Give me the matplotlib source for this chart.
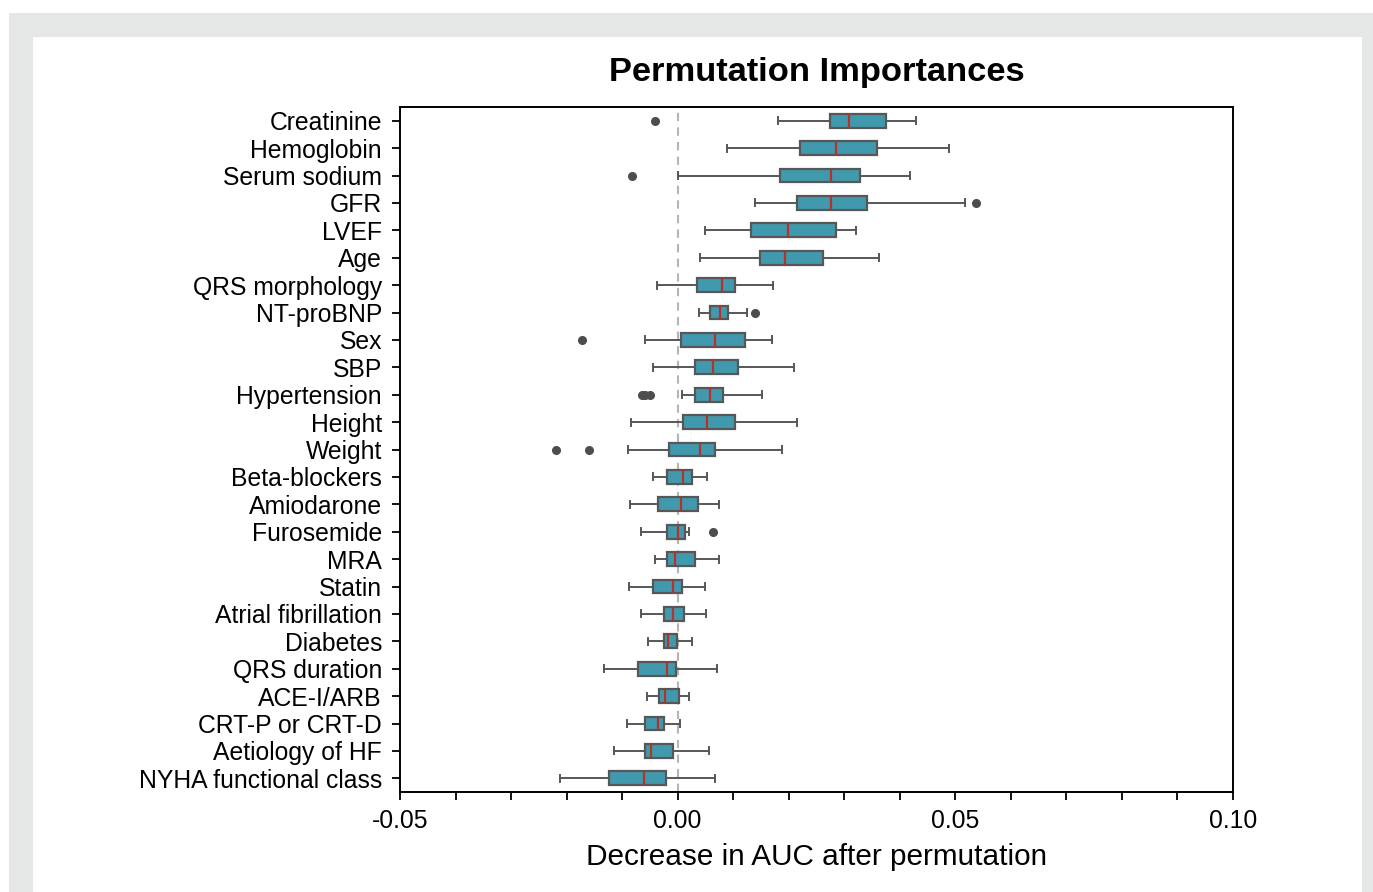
import numpy as np
import matplotlib
matplotlib.use("Agg")
import matplotlib.pyplot as plt
from matplotlib.patches import Rectangle

plt.rcParams['font.family'] = ['Liberation Sans', 'DejaVu Sans']

# =============================================================================
# values (decrease in AUC)
# =============================================================================
features = ["Creatinine", "Hemoglobin", "Serum sodium", "GFR", "LVEF", "Age",
            "QRS morphology", "NT-proBNP", "Sex", "SBP", "Hypertension",
            "Height", "Weight", "Beta-blockers", "Amiodarone", "Furosemide",
            "MRA", "Statin", "Atrial fibrillation", "Diabetes", "QRS duration",
            "ACE-I/ARB", "CRT-P or CRT-D", "Aetiology of HF",
            "NYHA functional class"]
whis_lo = [0.0180, 0.0089, 0.0000, 0.0139, 0.0049, 0.0040, -0.0037, 0.0039,
           -0.0058, -0.0044, 0.0007, -0.0084, -0.0089, -0.0044, -0.0086,
           -0.0066, -0.0041, -0.0088, -0.0066, -0.0054, -0.0133, -0.0055,
           -0.0092, -0.0115, -0.0211]
q1 = [0.0274, 0.0221, 0.0185, 0.0214, 0.0132, 0.0149, 0.0035, 0.0059,
      0.0006, 0.0032, 0.0031, 0.0009, -0.0016, -0.0019, -0.0036, -0.0020,
      -0.0020, -0.0045, -0.0025, -0.0025, -0.0071, -0.0034, -0.0059,
      -0.0059, -0.0124]
med = [0.0308, 0.0286, 0.0277, 0.0276, 0.0198, 0.0194, 0.0079, 0.0077,
       0.0067, 0.0064, 0.0058, 0.0052, 0.0041, 0.0010, 0.0006, 0.0000,
       -0.0005, -0.0009, -0.0009, -0.0017, -0.0020, -0.0023, -0.0036,
       -0.0048, -0.0061]
q3 = [0.0375, 0.0359, 0.0329, 0.0341, 0.0285, 0.0262, 0.0103, 0.0090,
      0.0122, 0.0108, 0.0082, 0.0104, 0.0068, 0.0026, 0.0037, 0.0014,
      0.0032, 0.0007, 0.0011, -0.0002, -0.0003, 0.0002, -0.0025, -0.0009,
      -0.0021]
whis_hi = [0.0430, 0.0489, 0.0419, 0.0517, 0.0321, 0.0363, 0.0172, 0.0124,
           0.0169, 0.0210, 0.0152, 0.0214, 0.0187, 0.0052, 0.0074, 0.0021,
           0.0074, 0.0049, 0.0051, 0.0026, 0.0071, 0.0021, 0.0005, 0.0056,
           0.0068]
outliers = {"Creatinine": [-0.0040], "Serum sodium": [-0.0082],
            "GFR": [0.0537], "NT-proBNP": [0.0140], "Sex": [-0.0172],
            "Hypertension": [-0.0065, -0.0058, -0.0049],
            "Weight": [-0.0219, -0.0160], "Furosemide": [0.0064]}

box_color = "#4199ad"
edge_color = "#575757"
median_color = "#b5322a"

# =============================================================================
# figure with grey frame
# =============================================================================
fig = plt.figure(figsize=(13.73, 8.92), dpi=100)
W, H = 1373, 892
fig.patches.append(Rectangle((9 / W, 0), 1 - 9 / W, 1 - 13 / H,
                             transform=fig.transFigure, facecolor="#e5e6e6",
                             edgecolor="none", zorder=-10))
fig.patches.append(Rectangle((33 / W, 0), (1362 - 33) / W, 1 - 37 / H,
                             transform=fig.transFigure, facecolor="white",
                             edgecolor="none", zorder=-9))

ax = fig.add_axes([400 / W, (H - 792) / H, (1233 - 400) / W, (792 - 107) / H])
ax.set_facecolor("white")

stats = []
for i, f in enumerate(features):
    stats.append(dict(label=f, whislo=whis_lo[i], q1=q1[i], med=med[i],
                      q3=q3[i], whishi=whis_hi[i],
                      fliers=np.array(outliers.get(f, []))))

ax.axvline(0, color="#b5b5b5", ls=(0, (4, 3)), lw=1.5, zorder=0)

ax.bxp(stats, positions=np.arange(len(features)), widths=0.5,
       orientation="horizontal", patch_artist=True, capwidths=0.25,
       boxprops=dict(facecolor=box_color, edgecolor=edge_color, linewidth=1.6),
       whiskerprops=dict(color=edge_color, linewidth=1.4),
       capprops=dict(color=edge_color, linewidth=1.4),
       medianprops=dict(color=median_color, linewidth=1.6),
       flierprops=dict(marker="o", markerfacecolor="#4d4d4d",
                       markeredgecolor="#4d4d4d", markersize=5.5))

ax.set_ylim(len(features) - 0.5, -0.5)
ax.set_xlim(-0.05, 0.10)
ax.set_xticks([-0.05, 0.0, 0.05, 0.10])
ax.set_xticklabels(["-0.05", "0.00", "0.05", "0.10"], fontsize=17.8)
ax.set_xticks(np.arange(-0.05, 0.1001, 0.01), minor=True)
ax.set_yticks(np.arange(len(features)))
ax.set_yticklabels(features, fontsize=17.8)
ax.tick_params(axis="both", which="both", direction="out", length=6,
               width=1.3, color="black")
ax.tick_params(axis="x", pad=6)
ax.tick_params(axis="y", pad=7)
for s in ax.spines.values():
    s.set_linewidth(1.4)
    s.set_color("black")

fig.text(816.5 / W, (H - 73) / H, "Permutation Importances",
         ha="center", va="center", fontsize=24.8, fontweight="bold")
fig.text(816.5 / W, (H - 857) / H, "Decrease in AUC after permutation",
         ha="center", va="center", fontsize=21.4)

fig.savefig("out.png", dpi=100)
